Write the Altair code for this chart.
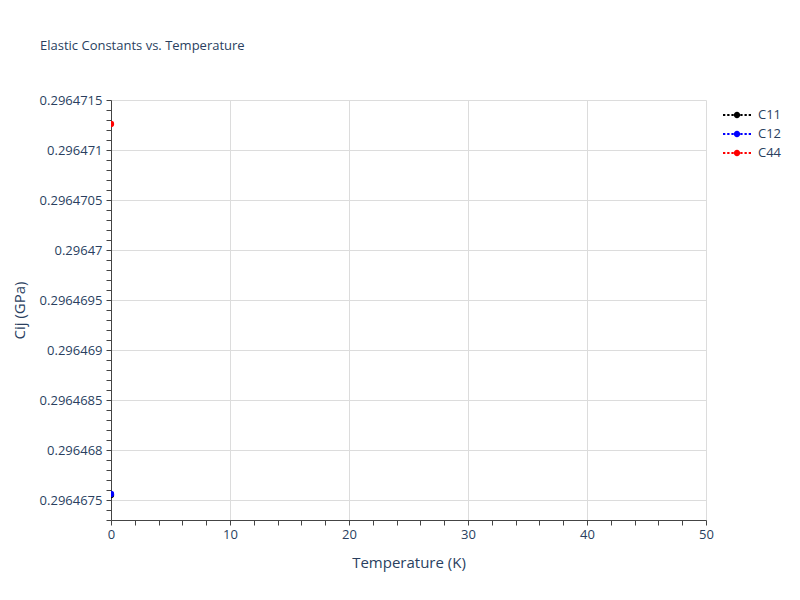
import pandas as pd
import altair as alt

# values
temperature = [0]
c11 = [0.29646755]
c12 = [0.29646756]
c44 = [0.29647126]
series_names = ["C11", "C12", "C44"]
series_colors = ["black", "blue", "red"]

x_ticks = list(range(0, 51, 2))
y_ticks = [round(0.2964673 + i * 1e-7, 8) for i in range(43)]

df = pd.DataFrame({
    "T": temperature * 3,
    "Cij": c11 + c12 + c44,
    "series": series_names,
})

# dotted line with a dot in the middle, for the legend symbols
dash_starts = [-2.0, -1.4, -0.8, 0.47, 1.07, 1.67]
legend_path = "".join("M{},-0.14h0.33v0.28h-0.33z".format(s) for s in dash_starts)
legend_path += "M-0.45,0a0.45,0.45 0 1,0 0.9,0a0.45,0.45 0 1,0 -0.9,0z"

font = "Open Sans"
text_color = "#2a3f5f"

points = (alt
          .Chart(df)
          .mark_point(filled=True, size=40, opacity=1, clip=True)
          .encode(
              x=alt.X("T:Q",
                      title="Temperature (K)",
                      scale=alt.Scale(domain=[0, 50], nice=False),
                      axis=alt.Axis(values=x_ticks,
                                    labelExpr="datum.value % 10 == 0 ? datum.label : ''",
                                    labelOverlap=False,
                                    labelFlush=False,
                                    gridOpacity={"condition": {"test": "datum.value % 10 == 0", "value": 1}, "value": 0},
                                    titlePadding=14,
                                    labelPadding=3)),
              y=alt.Y("Cij:Q",
                      title="Cij (GPa)",
                      scale=alt.Scale(domain=[0.2964673, 0.2964715], nice=False, zero=False),
                      axis=alt.Axis(values=y_ticks,
                                    labelExpr="round(datum.value*1e7) % 5 == 0 ? format(datum.value, '.7~f') : ''",
                                    labelOverlap=False,
                                    labelFlush=False,
                                    gridOpacity={"condition": {"test": "round(datum.value*1e7) % 5 == 0", "value": 1}, "value": 0},
                                    titlePadding=12,
                                    labelPadding=4)),
              color=alt.Color("series:N",
                              scale=alt.Scale(domain=series_names, range=series_colors),
                              legend=alt.Legend(title=None,
                                                orient="none",
                                                legendX=619,
                                                legendY=8,
                                                symbolType=legend_path,
                                                symbolSize=196,
                                                symbolStrokeWidth=0,
                                                labelOffset=14,
                                                rowPadding=5,
                                                labelFontSize=13,
                                                labelFont=font,
                                                labelColor=text_color)),
              order=alt.Order("series:N")
          )
         )

chart = (points
         .properties(
             width=595,
             height=420,
             autosize="none",
             padding={"left": 103, "top": 92, "right": 86, "bottom": 64},
             title=alt.TitleParams("Elastic Constants vs. Temperature",
                                   anchor="start",
                                   frame="group",
                                   dx=-71,
                                   offset=41,
                                   fontSize=13,
                                   fontWeight="normal",
                                   font=font,
                                   color=text_color)
         )
         .configure_view(stroke=None)
         .configure_axis(
             labelFont=font,
             labelFontSize=13,
             labelColor=text_color,
             titleFont=font,
             titleFontSize=15,
             titleFontWeight="normal",
             titleColor=text_color,
             gridColor="#dcdcdc",
             domainColor="#444",
             tickColor="#444",
             tickSize=5
         )
        )

chart.save("out.html", embed_options={"renderer": "svg", "actions": False})
